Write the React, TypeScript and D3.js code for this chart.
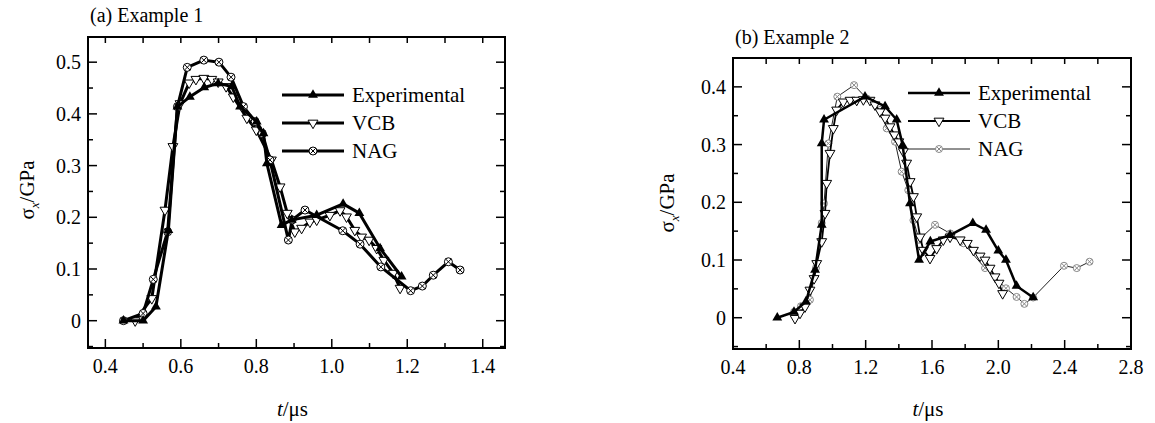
import React from 'react'
import * as d3 from 'd3'

const width = 1155
const height = 423
const font = 'Liberation Serif'

type Pt = [number, number]

/* (a) Example 1 : t in μs, stress in GPa */
const expA: Pt[] = [
    [0.448, 0], [0.5, 0], [0.534, 0.027], [0.567, 0.175], [0.591, 0.414],
    [0.624, 0.433], [0.662, 0.451], [0.699, 0.459], [0.735, 0.453], [0.757, 0.414],
    [0.801, 0.385], [0.819, 0.362], [0.828, 0.304], [0.867, 0.185], [0.894, 0.195],
    [0.96, 0.204], [1.03, 0.226], [1.073, 0.208], [1.128, 0.14], [1.185, 0.085],
]
const vcbA: Pt[] = [
    [0.479, 0], [0.523, 0.043], [0.558, 0.214], [0.579, 0.337], [0.598, 0.42],
    [0.622, 0.46], [0.64, 0.467], [0.661, 0.469], [0.682, 0.467], [0.699, 0.462],
    [0.72, 0.453], [0.739, 0.433], [0.775, 0.392], [0.8, 0.369], [0.84, 0.311],
    [0.863, 0.259], [0.882, 0.208], [0.902, 0.172], [0.92, 0.179], [0.942, 0.191],
    [0.96, 0.195], [0.995, 0.204], [1.022, 0.213], [1.039, 0.201], [1.061, 0.175],
    [1.079, 0.162], [1.099, 0.156], [1.119, 0.14], [1.138, 0.117], [1.163, 0.092],
    [1.181, 0.063],
]
const nagA: Pt[] = [
    [0.448, 0], [0.5, 0.014], [0.527, 0.08], [0.565, 0.172], [0.591, 0.414],
    [0.617, 0.49], [0.661, 0.504], [0.701, 0.5], [0.733, 0.471], [0.766, 0.414],
    [0.797, 0.385], [0.816, 0.362], [0.836, 0.311], [0.885, 0.156], [0.895, 0.195],
    [0.929, 0.214], [1.029, 0.174], [1.075, 0.148], [1.13, 0.104], [1.209, 0.058],
    [1.24, 0.067], [1.269, 0.088], [1.309, 0.114], [1.34, 0.098],
]

/* (b) Example 2 */
const expB: Pt[] = [
    [0.667, 0], [0.768, 0.01], [0.84, 0.028], [0.895, 0.083], [0.935, 0.161],
    [0.935, 0.302], [0.949, 0.343], [1.196, 0.383], [1.317, 0.366], [1.387, 0.343],
    [1.423, 0.299], [1.467, 0.198], [1.522, 0.1], [1.59, 0.132], [1.709, 0.143],
    [1.846, 0.164], [1.926, 0.152], [2.0, 0.116], [2.046, 0.1], [2.11, 0.055],
    [2.21, 0.035],
]
const vcbB: Pt[] = [
    [0.774, -0.001], [0.804, 0.008], [0.834, 0.019], [0.864, 0.048], [0.889, 0.068],
    [0.905, 0.094], [0.935, 0.132], [0.955, 0.181], [0.965, 0.233], [0.985, 0.285],
    [1.005, 0.328], [1.025, 0.36], [1.065, 0.374], [1.106, 0.377], [1.146, 0.377],
    [1.186, 0.378], [1.226, 0.377], [1.256, 0.369], [1.287, 0.357], [1.317, 0.346],
    [1.347, 0.331], [1.373, 0.317], [1.4, 0.305], [1.427, 0.288], [1.447, 0.268],
    [1.468, 0.236], [1.488, 0.21], [1.508, 0.175], [1.528, 0.14], [1.548, 0.117],
    [1.588, 0.103], [1.628, 0.12], [1.668, 0.135], [1.709, 0.14], [1.77, 0.135],
    [1.813, 0.129], [1.85, 0.117], [1.89, 0.107], [1.92, 0.1], [1.95, 0.086],
    [1.98, 0.071], [2.004, 0.06], [2.026, 0.042],
]
const nagB: Pt[] = [
    [0.768, 0.01], [0.81, 0.02], [0.864, 0.031], [0.9, 0.086], [0.935, 0.164],
    [0.949, 0.198], [0.975, 0.302], [1.029, 0.383], [1.13, 0.403], [1.206, 0.38],
    [1.287, 0.36], [1.327, 0.328], [1.377, 0.305], [1.417, 0.253], [1.457, 0.221],
    [1.488, 0.169], [1.522, 0.135], [1.618, 0.161], [1.71, 0.146], [1.79, 0.129],
    [1.92, 0.086], [2.046, 0.051], [2.11, 0.036], [2.157, 0.024], [2.21, 0.035],
    [2.396, 0.09], [2.473, 0.086], [2.55, 0.097],
]

/* ticks */
const xTicksA = [0.4, 0.6, 0.8, 1.0, 1.2, 1.4]
const xMinorA = [0.5, 0.7, 0.9, 1.1, 1.3]
const yTicksA = [0, 0.1, 0.2, 0.3, 0.4, 0.5]
const yMinorA = [-0.05, 0.05, 0.15, 0.25, 0.35, 0.45]
const xTicksB = [0.4, 0.8, 1.2, 1.6, 2.0, 2.4, 2.8]
const xMinorB = [0.6, 1.0, 1.4, 1.8, 2.2, 2.6]
const yTicksB = [0, 0.1, 0.2, 0.3, 0.4]
const yMinorB = [-0.05, 0.05, 0.15, 0.25, 0.35]

const seriesNames = ['Experimental', 'VCB', 'NAG']

type Kind = 'up' | 'down' | 'otimes'

const triPath = d3.symbol().type(d3.symbolTriangle).size(42)() as string

function Marker({ kind, cx, cy, color, r }: { kind: Kind; cx: number; cy: number; color: string; r: number }) {
    if (kind === 'up') {
        return <path d={triPath} transform={`translate(${cx},${cy})`} fill="#000" />
    }
    if (kind === 'down') {
        return (
            <path
                d={triPath}
                transform={`translate(${cx},${cy}) rotate(180)`}
                fill="#fff"
                stroke="#000"
                strokeWidth={1}
            />
        )
    }
    const k = r * 0.7
    return (
        <g transform={`translate(${cx},${cy})`} stroke={color} strokeWidth={1} fill="#fff">
            <circle r={r} />
            <line x1={-k} y1={-k} x2={k} y2={k} />
            <line x1={-k} y1={k} x2={k} y2={-k} />
        </g>
    )
}

type Series = { data: Pt[]; kind: Kind; lw: number; color: string; lineColor: string }

type PanelProps = {
    frame: { left: number; right: number; top: number; bottom: number }
    xDomain: [number, number]
    yDomain: [number, number]
    xTicks: number[]
    xMinor: number[]
    yTicks: number[]
    yMinor: number[]
    series: Series[]
    drawOrder: number[]
    title: string
    titleY: number
    legend: { x: number; y: number }
    yLabel: { x: number; y: number }
    r: number
}

function Panel(p: PanelProps) {
    const { frame } = p
    const x = d3.scaleLinear().domain(p.xDomain).range([frame.left, frame.right])
    const y = d3.scaleLinear().domain(p.yDomain).range([frame.bottom, frame.top])
    const line = d3
        .line<Pt>()
        .x((d) => x(d[0]))
        .y((d) => y(d[1]))
    const major = 9
    const minor = 5

    return (
        <g fill="#000">
            {/* title */}
            <text x={frame.left + 2} y={p.titleY} fontSize={20} fontFamily={font}>
                {p.title}
            </text>

            {/* series: lines then markers */}
            {p.drawOrder.map((i) => {
                const s = p.series[i]
                return (
                    <g key={i}>
                        <path d={line(s.data) as string} fill="none" stroke={s.lineColor} strokeWidth={s.lw} strokeLinejoin="round" />
                        {s.data.map((d, j) => (
                            <Marker key={j} kind={s.kind} cx={x(d[0])} cy={y(d[1])} color={s.color} r={p.r} />
                        ))}
                    </g>
                )
            })}

            {/* legend */}
            {p.series.map((s, i) => {
                const ly = p.legend.y + i * 28
                return (
                    <g key={i}>
                        <line x1={p.legend.x} x2={p.legend.x + 62} y1={ly} y2={ly} stroke={s.lineColor} strokeWidth={s.lw} />
                        <Marker kind={s.kind} cx={p.legend.x + 31} cy={ly} color={s.color} r={p.r} />
                        <text x={p.legend.x + 70} y={ly} dy="0.35em" fontSize={21} fontFamily={font}>
                            {seriesNames[i]}
                        </text>
                    </g>
                )
            })}

            {/* frame */}
            <rect
                x={frame.left}
                y={frame.top}
                width={frame.right - frame.left}
                height={frame.bottom - frame.top}
                fill="none"
                stroke="#000"
                strokeWidth={2}
            />

            {/* x ticks, bottom and top, pointing inward */}
            <g stroke="#000" strokeWidth={1.5}>
                {p.xTicks.map((t) => (
                    <g key={t}>
                        <line x1={x(t)} x2={x(t)} y1={frame.bottom} y2={frame.bottom - major} />
                        <line x1={x(t)} x2={x(t)} y1={frame.top} y2={frame.top + minor + 1} />
                    </g>
                ))}
                {p.xMinor.map((t) => (
                    <g key={t}>
                        <line x1={x(t)} x2={x(t)} y1={frame.bottom} y2={frame.bottom - minor} />
                        <line x1={x(t)} x2={x(t)} y1={frame.top} y2={frame.top + minor + 1} />
                    </g>
                ))}
                {p.yTicks.map((t) => (
                    <g key={t}>
                        <line x1={frame.left} x2={frame.left + major} y1={y(t)} y2={y(t)} />
                        <line x1={frame.right} x2={frame.right - major} y1={y(t)} y2={y(t)} />
                    </g>
                ))}
                {p.yMinor.map((t) => (
                    <g key={t}>
                        <line x1={frame.left} x2={frame.left + minor} y1={y(t)} y2={y(t)} />
                        <line x1={frame.right} x2={frame.right - minor} y1={y(t)} y2={y(t)} />
                    </g>
                ))}
            </g>

            {/* tick labels */}
            {p.xTicks.map((t) => (
                <text key={t} x={x(t)} y={frame.bottom + 25} textAnchor="middle" fontSize={20} fontFamily={font}>
                    {t.toFixed(1)}
                </text>
            ))}
            {p.yTicks.map((t) => (
                <text key={t} x={frame.left - 7} y={y(t)} dy="0.35em" textAnchor="end" fontSize={20} fontFamily={font}>
                    {t === 0 ? '0' : t.toFixed(1)}
                </text>
            ))}

            {/* axis titles */}
            <text x={(frame.left + frame.right) / 2 - 4} y={416} textAnchor="middle" fontSize={21} fontFamily={font}>
                <tspan fontStyle="italic">t</tspan>/μs
            </text>
            <text
                transform={`translate(${p.yLabel.x},${p.yLabel.y}) rotate(-90)`}
                textAnchor="middle"
                dy="0.35em"
                fontSize={21}
                fontFamily={font}
            >
                σ
                <tspan fontStyle="italic" fontSize={13} dy={5}>
                    x
                </tspan>
                <tspan dy={-5}>/GPa</tspan>
            </text>
        </g>
    )
}

export default function App() {
    const left: Series[] = [
        { data: expA, kind: 'up', lw: 3, color: '#000', lineColor: '#000' },
        { data: vcbA, kind: 'down', lw: 3, color: '#000', lineColor: '#000' },
        { data: nagA, kind: 'otimes', lw: 3, color: '#000', lineColor: '#000' },
    ]
    const right: Series[] = [
        { data: expB, kind: 'up', lw: 2.5, color: '#000', lineColor: '#000' },
        { data: vcbB, kind: 'down', lw: 1.8, color: '#000', lineColor: '#000' },
        { data: nagB, kind: 'otimes', lw: 1, color: '#888', lineColor: '#222' },
    ]
    return (
        <svg
            width={width}
            height={height}
            style={{ position: 'absolute', left: 0, top: 0, background: '#fff' }}
        >
            <Panel
                frame={{ left: 88, right: 505, top: 37, bottom: 348 }}
                xDomain={[0.354, 1.459]}
                yDomain={[-0.0528, 0.5487]}
                xTicks={xTicksA}
                xMinor={xMinorA}
                yTicks={yTicksA}
                yMinor={yMinorA}
                series={left}
                drawOrder={[1, 2, 0]}
                title="(a) Example 1"
                titleY={22}
                legend={{ x: 282, y: 95 }}
                yLabel={{ x: 27, y: 190 }}
                r={4}
            />
            <Panel
                frame={{ left: 733, right: 1131, top: 58, bottom: 349 }}
                xDomain={[0.4, 2.8]}
                yDomain={[-0.0542, 0.45]}
                xTicks={xTicksB}
                xMinor={xMinorB}
                yTicks={yTicksB}
                yMinor={yMinorB}
                series={right}
                drawOrder={[2, 1, 0]}
                title="(b) Example 2"
                titleY={44}
                legend={{ x: 908, y: 93 }}
                yLabel={{ x: 667, y: 203 }}
                r={3.5}
            />
        </svg>
    )
}
